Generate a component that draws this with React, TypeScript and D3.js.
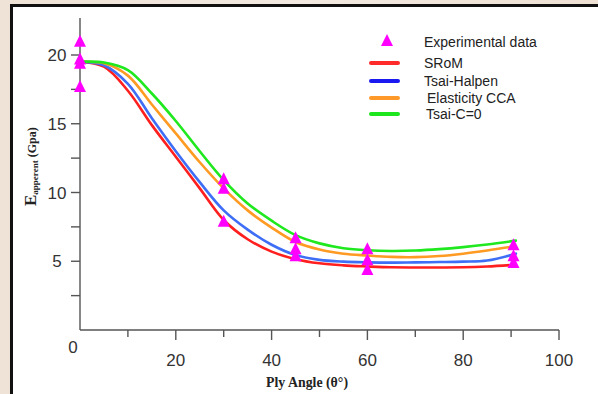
import React from "react";
import * as d3 from "d3";

const angles = [0, 5, 10, 15, 20, 25, 30, 35, 40, 45, 50, 55, 60, 65, 70, 75, 80, 85, 91];
const sromValues = [19.5, 19.15, 17.4, 14.9, 12.6, 10.3, 8.0, 6.6, 5.7, 5.15, 4.85, 4.7, 4.62, 4.56, 4.55, 4.55, 4.56, 4.62, 4.75];
const tsaiHalpenValues = [19.5, 19.25, 17.9, 15.4, 13.0, 10.75, 8.7, 7.3, 6.2, 5.45, 5.1, 4.97, 4.92, 4.9, 4.92, 4.94, 4.97, 5.05, 5.55];
const elasticityValues = [19.5, 19.4, 18.5, 16.4, 14.3, 12.2, 10.3, 8.7, 7.45, 6.4, 5.85, 5.55, 5.42, 5.32, 5.3, 5.38, 5.55, 5.78, 6.1];
const tsaiC0Values = [19.5, 19.45, 18.9, 17.2, 15.2, 13.0, 10.9, 9.2, 7.95, 6.9, 6.3, 5.95, 5.8, 5.75, 5.78, 5.88, 6.03, 6.22, 6.5];

const expAngles = [0, 0, 0, 0, 30, 30, 30, 45, 45, 45, 60, 60, 60, 90.5, 90.5, 90.5];
const expValues = [20.9, 19.6, 19.3, 17.6, 10.9, 10.2, 7.8, 6.6, 5.8, 5.3, 5.8, 5.0, 4.3, 6.1, 5.3, 4.8];

const xMajorTicks = [20, 40, 60, 80, 100];
const xMinorTicks = [10, 30, 50, 70, 90];
const yMajorTicks = [5, 10, 15, 20];
const yMinorTicks = [2.5, 7.5, 12.5, 17.5];

const seriesNames = ["SRoM", "Tsai-Halpen", "Elasticity CCA", "Tsai-C=0"];
const seriesColors = ["#ff1f1f", "#3d6ef5", "#ff9a22", "#1fe81f"];
const legendColors = ["#ff2a2a", "#1a1af0", "#ff9a2a", "#1ee61e"];

export default function App() {
  const x = d3.scaleLinear().domain([0, 100]).range([80, 559]);
  const y = d3.scaleLinear().domain([0, 20]).range([330, 55]);
  const allSeries = [sromValues, tsaiHalpenValues, elasticityValues, tsaiC0Values];
  const line = d3
    .line<number>()
    .x((_, i) => x(angles[i]))
    .y((d) => y(d))
    .curve(d3.curveCatmullRom.alpha(0.5));

  const tri = "M0,-8L6,4L-6,4Z";
  const legendY = [63, 81, 98, 114];
  const legendTextX = [424, 424, 427, 426];

  return (
    <svg
      width={598}
      height={394}
      style={{ position: "fixed", left: 0, top: 0, display: "block" }}
    >
      <defs>
        <linearGradient id="bgTop" x1="0" x2="1" y1="0" y2="0">
          <stop offset="0" stopColor="#efe2d6" />
          <stop offset="0.5" stopColor="#f3e9e0" />
          <stop offset="1" stopColor="#eee0d3" />
        </linearGradient>
      </defs>
      <rect x={0} y={0} width={598} height={394} fill="url(#bgTop)" />
      <rect x={12} y={6} width={590} height={400} fill="#ffffff" />
      <line x1={11.5} y1={5.5} x2={598} y2={5.5} stroke="#111" strokeWidth={3} />
      <line x1={11.5} y1={4} x2={11.5} y2={394} stroke="#111" strokeWidth={3} />

      {/* axes */}
      <g stroke="#555" strokeWidth={1.4} fill="none">
        <line x1={x(0)} y1={18} x2={x(0)} y2={y(0)} />
        <line x1={x(0)} y1={y(0)} x2={x(100)} y2={y(0)} />
        {yMajorTicks.concat(yMinorTicks).map((t) => (
          <line key={"yt" + t} x1={x(0) - 9} x2={x(0)} y1={y(t)} y2={y(t)} />
        ))}
        {xMajorTicks.map((t) => (
          <line key={"xM" + t} x1={x(t)} x2={x(t)} y1={y(0)} y2={y(0) + 10} />
        ))}
        {xMinorTicks.map((t) => (
          <line key={"xm" + t} x1={x(t)} x2={x(t)} y1={y(0)} y2={y(0) + 7} />
        ))}
      </g>
      <g fontFamily="Liberation Sans, Arial, sans-serif" fontSize={17} fill="#333">
        {yMajorTicks.map((t) => (
          <text key={"yl" + t} x={57} y={y(t) + 6} textAnchor="middle">
            {t}
          </text>
        ))}
        {xMajorTicks.map((t) => (
          <text key={"xl" + t} x={x(t)} y={366} textAnchor="middle">
            {t}
          </text>
        ))}
        <text x={73} y={353} textAnchor="middle">0</text>
      </g>

      {/* axis titles */}
      <text
        x={307}
        y={387}
        textAnchor="middle"
        fontFamily="Liberation Serif, Times New Roman, serif"
        fontWeight="bold"
        fontSize={15}
        fill="#222"
        textLength={82}
        lengthAdjust="spacingAndGlyphs"
      >
        Ply Angle (θ°)
      </text>
      <text
        transform="translate(36,206) rotate(-90)"
        fontFamily="Liberation Serif, Times New Roman, serif"
        fontWeight="bold"
        fill="#222"
      >
        <tspan fontSize={17}>E</tspan>
        <tspan fontSize={9} dy={2}>apperent</tspan>
        <tspan fontSize={12} dy={-2}> (Gpa)</tspan>
      </text>

      {/* curves */}
      {allSeries.map((s, i) => (
        <path
          key={"s" + i}
          d={line(s) || ""}
          fill="none"
          stroke={seriesColors[i]}
          strokeWidth={2.6}
          strokeLinejoin="round"
          strokeLinecap="round"
        />
      ))}

      {/* experimental */}
      {expValues.map((v, i) => (
        <path
          key={"e" + i}
          d={tri}
          transform={`translate(${x(expAngles[i])},${y(v)})`}
          fill="#ff00ff"
        />
      ))}

      {/* legend */}
      <path d={tri} transform="translate(387,42)" fill="#ff00ff" />
      <g fontFamily="Liberation Sans, Arial, sans-serif" fontSize={14} fill="#222">
        <text x={424} y={47}>Experimental data</text>
        {seriesNames.map((n, i) => (
          <g key={"lg" + i}>
            <line
              x1={371}
              x2={398}
              y1={legendY[i]}
              y2={legendY[i]}
              stroke={legendColors[i]}
              strokeWidth={4}
              strokeLinecap="round"
            />
            <text x={legendTextX[i]} y={legendY[i] + 5}>
              {n}
            </text>
          </g>
        ))}
      </g>
    </svg>
  );
}
